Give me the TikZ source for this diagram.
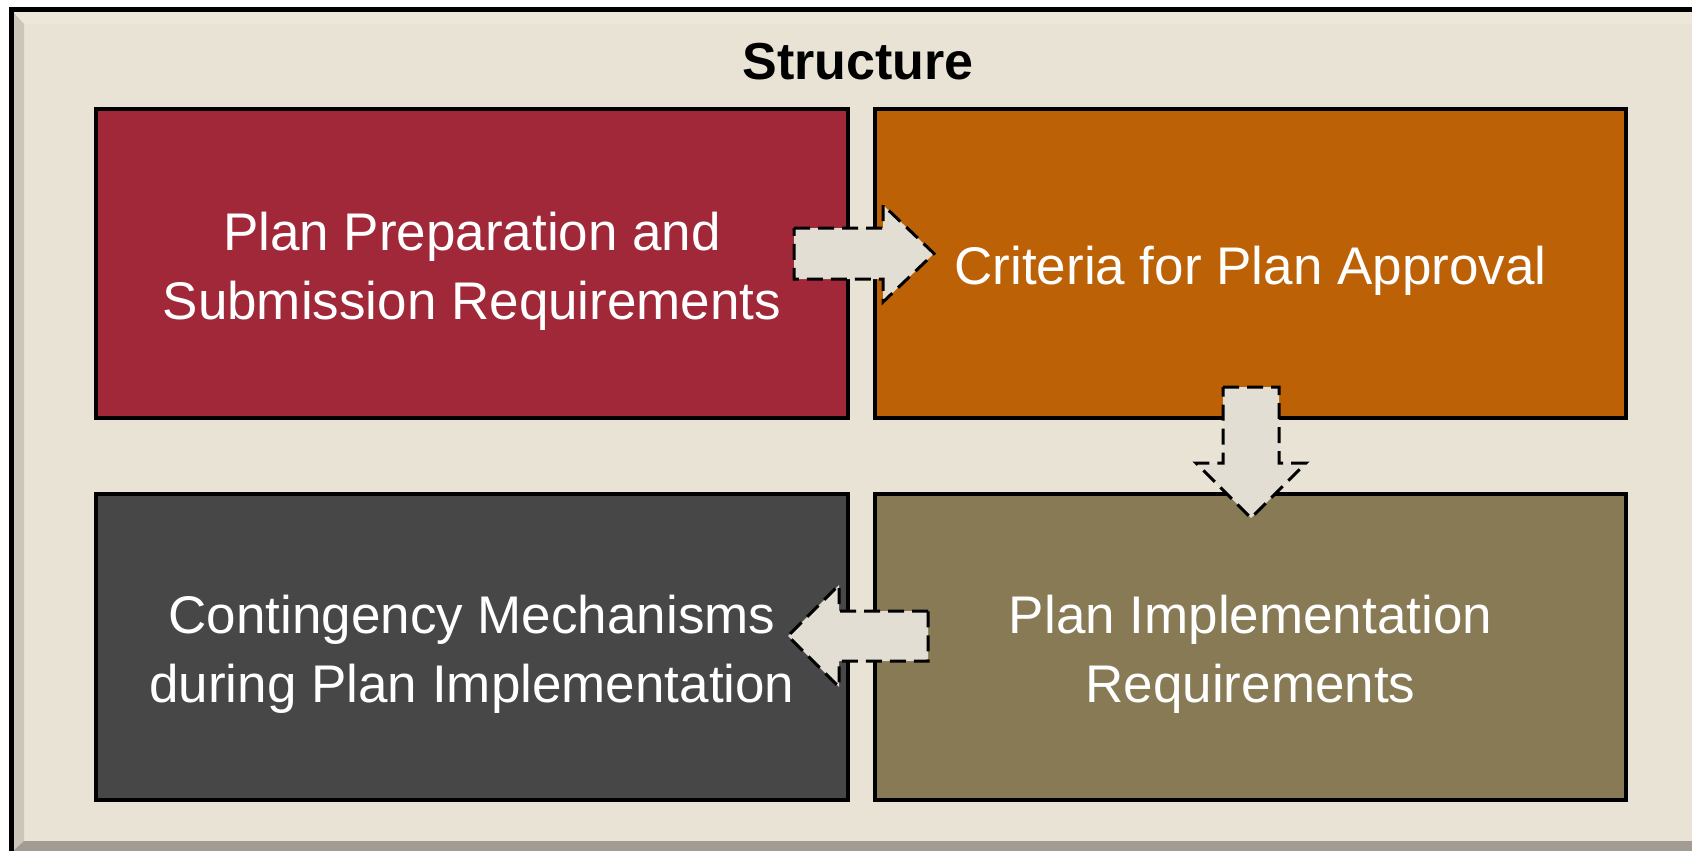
\documentclass[tikz,border=0pt]{standalone}
\usepackage{fontspec}
\setmainfont{Liberation Sans}
\definecolor{bgfill}{HTML}{E9E3D5}
\definecolor{bevtop}{HTML}{EDE7DA}
\definecolor{bevleft}{HTML}{CCC5B9}
\definecolor{bevbot}{HTML}{A19D95}
\definecolor{cred}{HTML}{A12838}
\definecolor{corange}{HTML}{BD6107}
\definecolor{cgray}{HTML}{474747}
\definecolor{colive}{HTML}{877A54}
\definecolor{arrowfill}{HTML}{E3DED3}
\tikzset{
  box/.style={draw=black, line width=4.5pt, inner sep=0pt},
  boxlabel/.style={text=white, align=center, inner sep=0pt,
    font=\fontsize{53}{69}\selectfont, yshift=-7.5pt},
  blockarrow/.style={draw=black, fill=arrowfill, line width=3pt,
    dash pattern=on 16pt off 8pt, line join=miter},
  titletext/.style={font=\fontsize{52}{60}\selectfont\bfseries, text=black, inner sep=0pt}
}
\begin{document}
\begin{tikzpicture}[x=1pt,y=-1pt]
\useasboundingbox (0,0) rectangle (1692,851);
\fill[white] (0,0) rectangle (1692,851);
% frame
\fill[bgfill] (11,9.5) rectangle (1692,851);
\fill[bevtop] (13,12) -- (1692,12) -- (1692,24) -- (24,24) -- cycle;
\fill[bevleft] (13,12) -- (24,24) -- (24,841) -- (13,851) -- cycle;
\fill[bevbot] (13,851) -- (24,841) -- (1692,841) -- (1692,851) -- cycle;
\draw[line width=5pt] (11,855) -- (11,9.5) -- (1696,9.5);
% title
\node[titletext, anchor=base] (title) at (858,79) {Structure};
% boxes
\node[box, fill=cred, minimum width=752pt, minimum height=309pt,
  label={[boxlabel]center:Plan Preparation and\\Submission Requirements}] (b1) at (472,263.5) {};
\node[box, fill=corange, minimum width=751pt, minimum height=309pt,
  label={[boxlabel]center:Criteria for Plan Approval}] (b2) at (1250.5,263.5) {};
\node[box, fill=colive, minimum width=751pt, minimum height=306pt,
  label={[boxlabel]center:Plan Implementation\\Requirements}] (b4) at (1250.5,647) {};
\node[box, fill=cgray, minimum width=752pt, minimum height=306pt,
  label={[boxlabel]center:Contingency Mechanisms\\during Plan Implementation}] (b3) at (472,647) {};
% block arrows
\draw[blockarrow] (794,228) -- (883,228) -- (883,205) -- (934,253.5) -- (883,302) -- (883,279) -- (794,279) -- cycle;
\draw[blockarrow] (1223,387) -- (1279,387) -- (1279,463) -- (1306,463) -- (1251,518) -- (1196,463) -- (1223,463) -- cycle;
\draw[blockarrow] (928,611) -- (839,611) -- (839,585) -- (788,636) -- (839,687) -- (839,661) -- (928,661) -- cycle;
\end{tikzpicture}
\end{document}
